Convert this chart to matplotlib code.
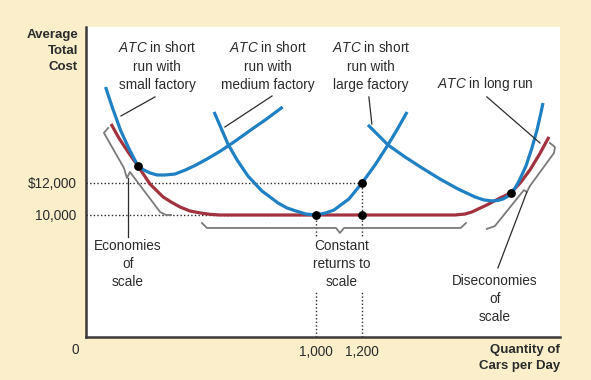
import matplotlib
matplotlib.use("Agg")
import matplotlib.pyplot as plt

# ---------------- chart data (cars per day, dollars) ---------------- #
small_q = [85, 115, 150, 185, 226, 252, 278, 309, 343, 387, 430, 475, 530, 585, 650, 715, 785, 855]
small_c = [18000, 16700, 15300, 14200, 13060, 12810, 12630, 12500, 12500, 12560, 12800, 13100,
           13530, 14000, 14630, 15300, 16000, 16750]

medium_q = [557, 587, 617, 657, 704, 765, 800, 835, 874, 913, 957, 1000, 1043, 1078, 1143, 1200,
            1257, 1313, 1357, 1396]
medium_c = [16440, 15440, 14440, 13440, 12440, 11500, 11130, 10750, 10440, 10250, 10060, 10000,
            10130, 10310, 11000, 12000, 13130, 14380, 15440, 16440]

large_q = [1226, 1270, 1313, 1387, 1461, 1539, 1617, 1691, 1730, 1765, 1791, 1813, 1830, 1848,
           1866, 1883, 1913, 1939, 1961, 1978, 1987]
large_c = [15630, 15000, 14380, 13630, 12940, 12250, 11630, 11130, 10940, 10880, 10910, 11000,
           11130, 11380, 11690, 12130, 13060, 14190, 15310, 16380, 17000]

long_q = [109, 143, 183, 226, 278, 335, 370, 409, 452, 496, 540, 583, 1000, 1200, 1604, 1648,
          1678, 1743, 1800, 1848, 1891, 1930, 1970, 2013]
long_c = [15690, 14810, 13940, 13060, 11940, 11130, 10810, 10500, 10250, 10130, 10040, 10000,
          10000, 10000, 10000, 10060, 10190, 10630, 11060, 11380, 12060, 12810, 13750, 14880]

# tangency / reference points
dots_q = [226, 1000, 1200, 1200, 1848]
dots_c = [13060, 10000, 12000, 10000, 11380]

y_ticks = [10000, 12000]
y_tick_labels = ["10,000", "$12,000"]
x_ticks = [1000, 1200]
x_tick_labels = ["1,000", "1,200"]

BG = "#FBEFCB"
BLUE = "#1F80C4"
RED = "#A3323F"
BRACE = "#7A7A7A"
INK = "#2B2B2B"

plt.rcParams["font.family"] = ["Liberation Sans", "DejaVu Sans"]
plt.rcParams["mathtext.fontset"] = "custom"
plt.rcParams["mathtext.it"] = "Liberation Sans:italic"
plt.rcParams["mathtext.rm"] = "Liberation Sans"

fig = plt.figure(figsize=(5.91, 3.80), dpi=100, facecolor=BG)
ax = fig.add_axes([86 / 591, 43 / 380, 474 / 591, 310 / 380])
ax.set_facecolor("white")
ax.set_xlim(0, 2061)
ax.set_ylim(2375, 21750)

for side in ["top", "right"]:
    ax.spines[side].set_visible(False)
for side in ["left", "bottom"]:
    ax.spines[side].set_color("#3A3A3A")
    ax.spines[side].set_linewidth(1.8)

ax.set_yticks(y_ticks)
ax.set_yticklabels(y_tick_labels, fontsize=9.8, color=INK)
ax.set_xticks(x_ticks)
ax.set_xticklabels(x_tick_labels, fontsize=9.8, color=INK)
ax.tick_params(length=0)
ax.tick_params(axis="y", pad=7)
ax.tick_params(axis="x", pad=6)

# dotted guide lines
dot_style = dict(color=INK, lw=1, linestyle=(0, (1, 1.6)), zorder=1)
ax.plot([0, 1200], [12000, 12000], **dot_style)
ax.plot([0, 1000], [10000, 10000], **dot_style)
ax.plot([1000, 1000], [2375, 10000], **dot_style)
ax.plot([1200, 1200], [2375, 12000], **dot_style)

# cost curves
ax.plot(long_q, long_c, color=RED, lw=2.3, solid_capstyle="butt", zorder=3)
for q, c in [(small_q, small_c), (medium_q, medium_c), (large_q, large_c)]:
    ax.plot(q, c, color=BLUE, lw=2.3, solid_capstyle="butt", zorder=4)
ax.plot(dots_q, dots_c, "o", color="black", ms=5.3, zorder=6)

# braces
brace_style = dict(color=BRACE, lw=1.3, zorder=2, solid_joinstyle="round")
ax.plot([96, 78, 165, 178, 191, 322, 348, 370],
        [15440, 15130, 12940, 12310, 12690, 10190, 10000, 10000], **brace_style)
ax.plot([504, 526, 1087, 1104, 1122, 1630, 1652],
        [9500, 9190, 9190, 8880, 9190, 9190, 9500], **brace_style)
ax.plot([2017, 2039, 2035, 1930, 1917, 1904, 1778, 1743],
        [14500, 14250, 13880, 11810, 11440, 11560, 9310, 9130], **brace_style)

# leader lines
lead = dict(color=INK, lw=0.9, zorder=5)
ax.plot([300, 152], [17380, 16190], **lead)
ax.plot([809, 604], [17440, 15500], **lead)
ax.plot([1230, 1243], [17380, 15690], **lead)
ax.plot([1743, 1974], [17380, 14500], **lead)
ax.plot([183, 183], [12310, 8630], **lead)
ax.plot([1917, 1791], [11440, 6690], **lead)

# labels
fs = 9.8
lab = dict(ha="center", va="center", fontsize=fs, color=INK, linespacing=1.38, zorder=7)
ax.text(309, 19310, "$ATC$ in short\nrun with\nsmall factory", **lab)
ax.text(791, 19310, "$ATC$ in short\nrun with\nmedium factory", **lab)
ax.text(1239, 19310, "$ATC$ in short\nrun with\nlarge factory", **lab)
ax.text(1735, 18190, "$ATC$ in long run", **lab)
ax.text(183, 6940, "Economies\nof\nscale", **lab)
ax.text(1113, 6940, "Constant\nreturns to\nscale",
        bbox=dict(facecolor="white", edgecolor="none", pad=1.5), **lab)
ax.text(1778, 4750, "Diseconomies\nof\nscale", **lab)

fig.text(78 / 591, 1 - 51 / 380, "Average\nTotal\nCost", ha="right", va="center",
         fontsize=9.5, fontweight="bold", color=INK, linespacing=1.4)
fig.text(560 / 591, 1 - 358 / 380, "Quantity of\nCars per Day", ha="right", va="center",
         fontsize=9.5, fontweight="bold", color=INK, linespacing=1.4)
fig.text(75 / 591, 1 - 350 / 380, "0", ha="center", va="center", fontsize=fs, color=INK)

fig.savefig("out.png", dpi=100, facecolor=BG)
